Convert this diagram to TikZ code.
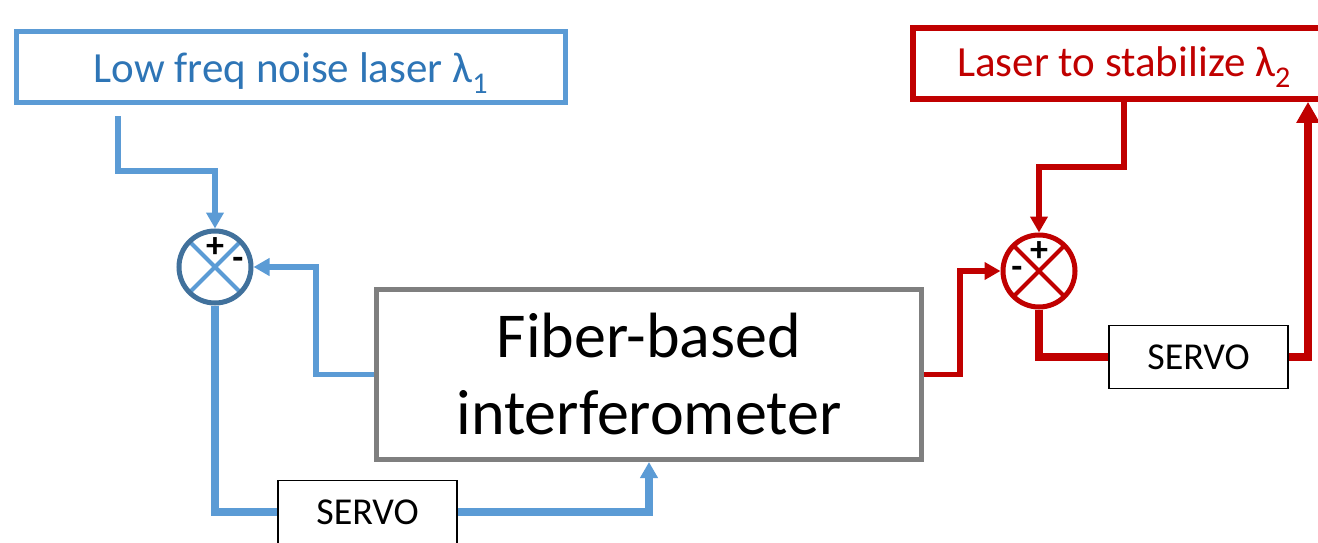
\documentclass[tikz,border=0pt]{standalone}
\usepackage{fontspec}
\setmainfont{Carlito}
\usetikzlibrary{arrows.meta}
\definecolor{lineblue}{HTML}{5B9BD5}
\definecolor{textblue}{HTML}{2E75B6}
\definecolor{ringblue}{HTML}{41719C}
\definecolor{darkred}{HTML}{C00000}
\definecolor{boxgray}{HTML}{7F7F7F}
\begin{document}
\begin{tikzpicture}[x=1pt,y=-1pt,
  laserbox/.style={line width=5pt, inner sep=0pt, text depth=0pt, font=\fontsize{43}{50}\selectfont},
  servobox/.style={draw=black, line width=1.5pt, fill=white, minimum width=179pt, minimum height=63pt, inner sep=0pt, font=\fontsize{38}{44}\selectfont},
  sumnode/.style={circle, line width=5pt, minimum size=72pt, inner sep=0pt},
  signlabel/.style={inner sep=0pt, font=\bfseries\fontsize{36}{40}\selectfont},
  conn/.style={line width=5.5pt},
  thickconn/.style={line width=7.5pt},
  tipsmall/.style={-{Triangle[length=16pt,width=17pt]}},
  tipbig/.style={-{Triangle[length=21pt,width=22pt]}}
]
\useasboundingbox (0,0) rectangle (1318,543);
\clip (0,0) rectangle (1318,543);

% boxes
\node[laserbox, draw=lineblue, text=textblue, text height=30.6pt, minimum width=549pt, minimum height=71pt] (lowlaser) at (291,67) {Low freq noise laser λ\textsubscript{1}};
\node[laserbox, draw=darkred, text=darkred, text height=27pt, line width=6pt, minimum width=422pt, minimum height=71pt] (laserR) at (1124,63.3) {Laser to stabilize λ\textsubscript{2}};
\node[draw=boxgray, line width=5pt, minimum width=545pt, minimum height=170pt, inner sep=0pt, align=center, font=\fontsize{64}{77}\selectfont] (fiber) at (649,374.5) {Fiber-based\\interferometer};

% summing junctions
\node[sumnode, draw=ringblue, path picture={\draw[lineblue, line width=4pt] (path picture bounding box.north east) -- (path picture bounding box.south west) (path picture bounding box.north west) -- (path picture bounding box.south east);}] (sumL) at (215,267) {};
\node[sumnode, draw=darkred, path picture={\draw[darkred, line width=4pt] (path picture bounding box.north east) -- (path picture bounding box.south west) (path picture bounding box.north west) -- (path picture bounding box.south east);}] (sumR) at (1039,271) {};
\node[signlabel] (sumLplus) at (215,248) {+};
\node[signlabel] (sumLminus) at (238,263) {-};
\node[signlabel] (sumRplus) at (1039,252) {+};
\node[signlabel] (sumRminus) at (1017,272) {-};

% servos
\node[servobox] (servoL) at (367.5,512) {SERVO};
\node[servobox] (servoR) at (1198.5,357) {SERVO};

% blue connectors
\draw[conn, lineblue, tipsmall] ([xshift=104pt,yshift=-11pt]lowlaser.south west) -- ++(0,55) -| (sumL.north);
\draw[conn, lineblue, tipsmall] (fiber.west) -- ++(-58,0) |- (sumL.east);
\draw[thickconn, lineblue] (sumL.south) |- (servoL.west);
\draw[thickconn, lineblue, tipsmall] (servoL.east) -| (fiber.south);

% red connectors
\draw[conn, darkred, tipsmall] (fiber.east) -- ++(36,0) |- (sumR.west);
\draw[conn, darkred, tipsmall] (laserR.south) -- ++(0,65) -| (sumR.north);
\draw[thickconn, darkred] (sumR.south) |- (servoR.west);
\draw[thickconn, darkred, tipbig] (servoR.east) -| ([xshift=-30pt]laserR.south east);
\end{tikzpicture}
\end{document}
